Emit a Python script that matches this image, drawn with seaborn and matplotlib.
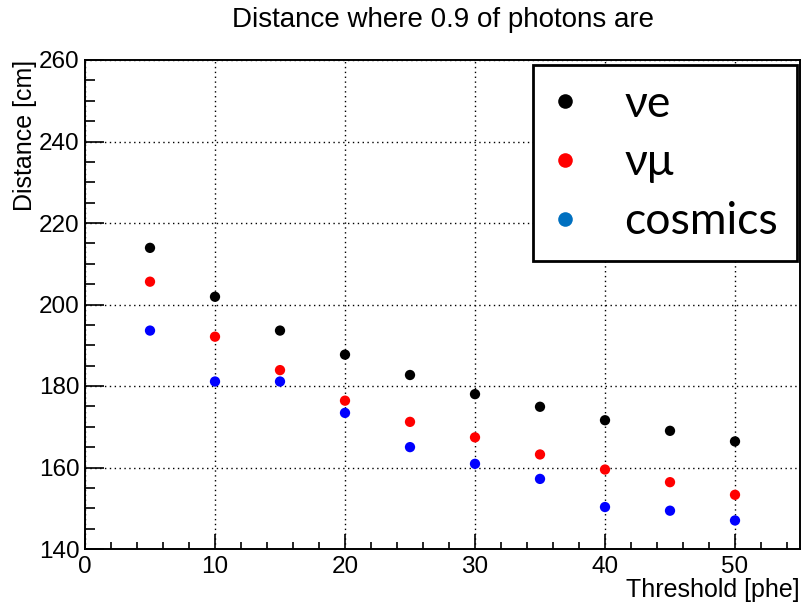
import matplotlib
matplotlib.use("Agg")
import matplotlib.pyplot as plt
from matplotlib.lines import Line2D
from matplotlib.ticker import MultipleLocator
import seaborn as sns
import pandas as pd

thresholds = [5, 10, 15, 20, 25, 30, 35, 40, 45, 50]
nu_e = [213.9, 201.9, 193.6, 187.7, 182.7, 178.0, 174.9, 171.6, 169.0, 166.4]
nu_mu = [205.6, 192.1, 183.9, 176.4, 171.2, 167.4, 163.2, 159.5, 156.4, 153.3]
cosmics = [193.6, 181.1, 181.1, 173.4, 165.0, 160.9, 157.2, 150.3, 149.4, 147.0]
series_names = ["ve", "vmu", "cosmics"]
legend_labels = ["νe", "νμ", "cosmics"]
data_colors = ["#000000", "#ff0000", "#0000ff"]
legend_colors = ["#000000", "#ff0000", "#0070c0"]

df = pd.DataFrame({
    "Threshold": thresholds * 3,
    "Distance": nu_e + nu_mu + cosmics,
    "series": [series_names[0]] * 10 + [series_names[1]] * 10 + [series_names[2]] * 10,
})

sns.set_theme(style="ticks")
plt.rcParams["font.family"] = ["Liberation Sans", "DejaVu Sans"]
plt.rcParams["text.color"] = "black"
plt.rcParams["axes.labelcolor"] = "black"

fig = plt.figure(figsize=(8.02, 6.04), dpi=100)
ax = fig.add_axes([85 / 802, 1 - 549 / 604, 715 / 802, 489 / 604])

sns.scatterplot(data=df, x="Threshold", y="Distance", hue="series",
                palette=dict(zip(series_names, data_colors)), s=55,
                edgecolor="none", legend=False, ax=ax, zorder=3)

ax.set_xlim(0, 55)
ax.set_ylim(140, 260)
ax.xaxis.set_major_locator(MultipleLocator(10))
ax.xaxis.set_minor_locator(MultipleLocator(2))
ax.yaxis.set_major_locator(MultipleLocator(20))
ax.yaxis.set_minor_locator(MultipleLocator(5))
ax.tick_params(axis="both", which="both", direction="in", top=False, right=False,
               labelsize=17.5, width=1.2, color="black", labelcolor="black")
ax.tick_params(axis="x", which="major", length=11, pad=5)
ax.tick_params(axis="x", which="minor", length=5)
ax.tick_params(axis="y", which="major", length=14, pad=4)
ax.tick_params(axis="y", which="minor", length=7)
ax.grid(True, which="major", linestyle=(0, (1, 2.5)), color="black", linewidth=1.0)
for sp in ax.spines.values():
    sp.set_linewidth(1.4)
    sp.set_color("black")

ax.set_xlabel("Threshold [phe]", fontsize=18, ha="right", x=1.0, labelpad=0)
ax.set_ylabel("Distance [cm]", fontsize=18, ha="right", y=1.0, labelpad=1)
fig.text(442.5 / 802, 1 - 20 / 604, "Distance where 0.9 of photons are",
         ha="center", va="center", fontsize=20)

handles = [Line2D([], [], linestyle="none", marker="o", markersize=10.5,
                  markerfacecolor=c, markeredgecolor="none") for c in legend_colors]
leg = ax.legend(handles, legend_labels, loc="upper right",
                bbox_to_anchor=((797 - 85) / 715, (549 - 65) / 489),
                prop={"family": ["Lato", "DejaVu Sans"], "size": 32},
                frameon=True, fancybox=False, framealpha=1, edgecolor="black",
                borderpad=0.42, labelspacing=0.4, handletextpad=1.05,
                handlelength=0.6, borderaxespad=0)
leg.get_frame().set_linewidth(2.0)

fig.savefig("out.png", dpi=100)
